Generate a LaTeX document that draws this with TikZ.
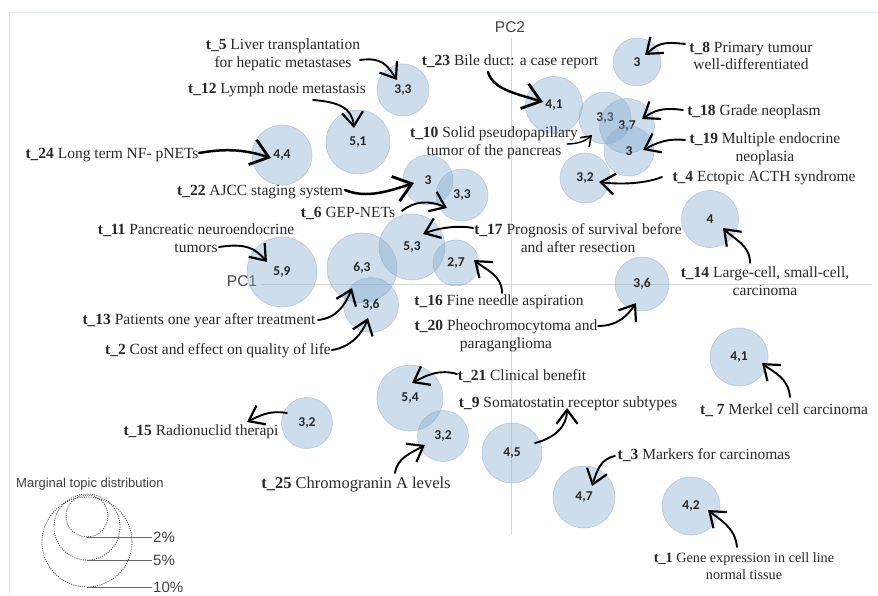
\documentclass[tikz,border=0pt]{standalone}
\usepackage{fontspec}
\setmainfont{Liberation Serif}
\newfontfamily\numfont{Carlito}
\newfontfamily\axfont{Liberation Sans}
\usetikzlibrary{arrows.meta}

\definecolor{bubblefill}{RGB}{130,170,208}
\definecolor{bubbleedge}{RGB}{150,170,192}
\definecolor{framecol}{RGB}{226,232,240}
\definecolor{axiscol}{RGB}{215,215,218}
\definecolor{labeltext}{RGB}{40,40,40}
\definecolor{axtext}{RGB}{70,70,70}

\begin{document}
\begin{tikzpicture}[x=1pt,y=-1pt,
  topic/.style={circle, inner sep=0pt, fill=bubblefill, fill opacity=0.4,
    draw=bubbleedge, draw opacity=0.55, line width=0.6pt, text opacity=1,
    text=black!85, font=\numfont\bfseries\fontsize{13.5}{13.5}\selectfont},
  lbl/.style={font=\fontsize{15.5}{17.5}\selectfont, text=labeltext,
    align=center, inner sep=0pt},
  ptr/.style={line width=1.9pt, line cap=round,
    -{Straight Barb[length=14pt,width=21pt,line width=2.2pt]}},
  bigptr/.style={line width=2.5pt, line cap=round,
    -{Straight Barb[length=17pt,width=26pt,line width=2.8pt]}},
  axislbl/.style={font=\axfont\fontsize{15.5}{15.5}\selectfont, text=axtext, inner sep=0pt},
  legtext/.style={font=\axfont\fontsize{15}{15}\selectfont, text=black!75, inner sep=0pt, anchor=west},
  legring/.style={draw=black!70, line width=0.9pt, dash pattern=on 0.9pt off 1.3pt},
  legline/.style={draw=black!60, line width=0.8pt}
]
\useasboundingbox (0,0) rectangle (878,596);

% frame edges
\draw[framecol, line width=1pt] (9,596) -- (9,13) -- (878,13);

% principal component axes
\coordinate (pc1a) at (262,284);
\coordinate (pc1b) at (872,284);
\coordinate (pc2a) at (511,38);
\coordinate (pc2b) at (511,535);
\draw[axiscol, line width=0.9pt] (pc1a) -- (pc1b);
\draw[axiscol, line width=0.9pt] (pc2a) -- (pc2b);
\node[axislbl] (pc1) at (242,281) {PC1};
\node[axislbl] (pc2) at (510,27) {PC2};

% topic bubbles
\node[topic, minimum size=52pt] (c5)  at (403,90)  {3,3};
\node[topic, minimum size=64pt] (c12) at (358,142) {5,1};
\node[topic, minimum size=60pt] (c24) at (282,155) {4,4};
\node[topic, minimum size=50pt] (c22) at (428,180) {3};
\node[topic, minimum size=52pt] (c6)  at (462,195) {3,3};
\node[topic, minimum size=66pt] (c17) at (412,247) {5,3};
\node[topic, minimum size=46pt] (c16) at (456,263) {2,7};
\node[topic, minimum size=70pt] (c13) at (362,268) {6,3};
\node[topic, minimum size=55pt] (c2)  at (371,305) {3,6};
\node[topic, minimum size=70pt] (c11) at (282,272) {5,9};
\node[topic, minimum size=48pt] (c8)  at (637,62)  {3};
\node[topic, minimum size=57pt] (c23) at (554,105) {4,1};
\node[topic, minimum size=52pt] (c10) at (605,118) {3,3};
\node[topic, minimum size=55pt] (c18) at (627,126) {3,7};
\node[topic, minimum size=50pt] (c19) at (629,151) {3};
\node[topic, minimum size=50pt] (c4)  at (585,178) {3,2};
\node[topic, minimum size=57pt] (c14) at (710,219) {4};
\node[topic, minimum size=54pt] (c20) at (642,284) {3,6};
\node[topic, minimum size=58pt] (c7)  at (739,357) {4,1};
\node[topic, minimum size=66pt] (c21) at (410,398) {5,4};
\node[topic, minimum size=51pt] (c15) at (307,423) {3,2};
\node[topic, minimum size=51pt] (c25) at (443,436) {3,2};
\node[topic, minimum size=60pt] (c9)  at (512,453) {4,5};
\node[topic, minimum size=62pt] (c3)  at (584,497) {4,7};
\node[topic, minimum size=58pt] (c1)  at (691,506) {4,2};

% topic labels
\node[lbl] (l5)  at (283,55)  {\textbf{t\_5} Liver transplantation\\for hepatic metastases};
\node[lbl] (l12) at (277,90)  {\textbf{t\_12} Lymph node metastasis};
\node[lbl] (l24) at (112,155) {\textbf{t\_24} Long term NF- pNETs};
\node[lbl] (l22) at (260,192) {\textbf{t\_22} AJCC staging system};
\node[lbl] (l6)  at (348,213) {\textbf{t\_6} GEP-NETs};
\node[lbl] (l11) at (196,238) {\textbf{t\_11} Pancreatic neuroendocrine\\tumors};
\node[lbl] (l13) at (199,321) {\textbf{t\_13} Patients one year after treatment};
\node[lbl] (l2)  at (218,351) {\textbf{t\_2} Cost and effect on quality of life};
\node[lbl] (l23) at (510,62)  {\textbf{t\_23} Bile duct: a case report};
\node[lbl] (l8)  at (751,56)  {\textbf{t\_8} Primary tumour\\well-differentiated};
\node[lbl] (l18) at (754,112) {\textbf{t\_18} Grade neoplasm};
\node[lbl] (l19) at (765,149) {\textbf{t\_19} Multiple endocrine\\neoplasia};
\node[lbl] (l10) at (494,143) {\textbf{t\_10} Solid pseudopapillary\\tumor of the pancreas};
\node[lbl] (l4)  at (764,178) {\textbf{t\_4} Ectopic ACTH syndrome};
\node[lbl] (l17) at (578,238) {\textbf{t\_17} Prognosis of survival before\\and after resection};
\node[lbl] (l14) at (765,281) {\textbf{t\_14} Large-cell, small-cell,\\carcinoma};
\node[lbl] (l16) at (499,302) {\textbf{t\_16} Fine needle aspiration};
\node[lbl] (l20) at (506,336) {\textbf{t\_20} Pheochromocytoma and\\paraganglioma};
\node[lbl] (l21) at (522,376) {\textbf{t\_21} Clinical benefit};
\node[lbl] (l9)  at (568,404) {\textbf{t\_9} Somatostatin receptor subtypes};
\node[lbl] (l7)  at (784,410) {\textbf{t\_ 7} Merkel cell carcinoma};
\node[lbl] (l3)  at (704,455) {\textbf{t\_3} Markers for carcinomas};
\node[lbl, font=\fontsize{14.2}{17.5}\selectfont] (l1) at (744,566) {\textbf{t\_1} Gene expression in cell line\\normal tissue};
\node[lbl] (l15) at (201,432) {\textbf{t\_15} Radionuclid therapi};
\node[lbl, font=\fontsize{16.5}{18}\selectfont] (l25) at (356,485) {\textbf{t\_25} Chromogranin A levels};

% pointer ends
\coordinate (a5)  at (360,60);  \coordinate (b5)  at (397,80);
\coordinate (a12) at (313,100); \coordinate (b12) at (354,128);
\coordinate (a24) at (199,153); \coordinate (b24) at (271,158);
\coordinate (a22) at (345,190); \coordinate (b22) at (414,183);
\coordinate (a6)  at (402,211); \coordinate (b6)  at (447,208);
\coordinate (a11) at (219,247); \coordinate (b11) at (267,262);
\coordinate (a13) at (318,320); \coordinate (b13) at (352,288);
\coordinate (a2)  at (332,350); \coordinate (b2)  at (368,318);
\coordinate (a23) at (488,72);  \coordinate (b23) at (543,102);
\coordinate (a8)  at (685,44);  \coordinate (b8)  at (645,55);
\coordinate (a18) at (683,110); \coordinate (b18) at (642,119);
\coordinate (a19) at (685,140); \coordinate (b19) at (643,150);
\coordinate (a10) at (567,144); \coordinate (b10) at (592,135);
\coordinate (a4)  at (662,177); \coordinate (b4)  at (599,182);
\coordinate (a17) at (473,228); \coordinate (b17) at (423,234);
\coordinate (a14) at (750,263); \coordinate (b14) at (723,228);
\coordinate (a16) at (502,293); \coordinate (b16) at (474,260);
\coordinate (a20) at (598,326); \coordinate (b20) at (636,303);
\coordinate (a21) at (457,374); \coordinate (b21) at (412,383);
\coordinate (a9)  at (535,443); \coordinate (b9)  at (567,408);
\coordinate (a7)  at (790,397); \coordinate (b7)  at (762,363);
\coordinate (a3)  at (615,456); \coordinate (b3)  at (592,486);
\coordinate (a1)  at (737,547); \coordinate (b1)  at (708,510);
\coordinate (a15) at (287,413); \coordinate (b15) at (247,422);
\coordinate (a25) at (395,473); \coordinate (b25) at (425,445);

% curved pointers
\draw[ptr] (a5)  .. controls +(22,-3) and +(-10,-15) .. (b5);
\draw[ptr] (a12) .. controls +(26,2)  and +(-2,-20)  .. (b12);
\draw[bigptr] (a24) .. controls +(28,-5) and +(-25,-8) .. (b24);
\draw[bigptr] (a22) .. controls +(22,9)  and +(-25,8)  .. (b22);
\draw[ptr] (a6)  .. controls +(12,-10) and +(-18,-8) .. (b6);
\draw[ptr] (a11) .. controls +(26,-4) and +(-12,-14) .. (b11);
\draw[ptr] (a13) .. controls +(20,-2) and +(-6,15)  .. (b13);
\draw[ptr] (a2)  .. controls +(20,-3) and +(-5,14)  .. (b2);
\draw[bigptr] (a23) .. controls +(5,18) and +(-25,-8) .. (b23);
\draw[ptr] (a8)  .. controls +(-25,-3) and +(12,-10) .. (b8);
\draw[ptr] (a18) .. controls +(-22,-3) and +(12,-8) .. (b18);
\draw[ptr] (a19) .. controls +(-20,-2) and +(12,-6) .. (b19);
\draw[ptr, line width=1.4pt, -{Straight Barb[length=9pt,width=13pt,line width=1.6pt]}] (a10) .. controls +(12,0) and +(-5,5) .. (b10);
\draw[ptr] (a4)  .. controls +(-20,8) and +(15,2)   .. (b4);
\draw[ptr] (a17) .. controls +(-15,-3) and +(15,-6) .. (b17);
\draw[ptr] (a14) .. controls +(0,-18) and +(12,12)  .. (b14);
\draw[ptr] (a16) .. controls +(0,-18) and +(12,10)  .. (b16);
\draw[ptr] (a20) .. controls +(20,0) and +(-8,12)   .. (b20);
\draw[ptr] (a21) .. controls +(-18,-5) and +(15,-8) .. (b21);
\draw[ptr] (a9)  .. controls +(20,-5) and +(0,18)   .. (b9);
\draw[ptr] (a7)  .. controls +(-2,-20) and +(12,10) .. (b7);
\draw[ptr] (a3)  .. controls +(-15,3) and +(5,-15)  .. (b3);
\draw[ptr] (a1)  .. controls +(-2,-20) and +(12,10) .. (b1);
\draw[ptr] (a15) .. controls +(-18,-3) and +(12,-6) .. (b15);
\draw[ptr] (a25) .. controls +(2,-15) and +(-14,8)  .. (b25);

% legend: marginal topic distribution
\node[font=\axfont\fontsize{13}{13}\selectfont, text=black!75, inner sep=0pt, anchor=west] (legtitle) at (16,484) {Marginal topic distribution};
\draw[legring] (87,516) circle[radius=21];
\draw[legring] (87,527) circle[radius=33];
\draw[legring] (87,542) circle[radius=45];
\coordinate (r2a) at (87,537);  \coordinate (r2b) at (152,537);
\coordinate (r5a) at (87,560);  \coordinate (r5b) at (152,560);
\coordinate (r10a) at (87,587); \coordinate (r10b) at (152,587);
\draw[legline] (r2a) -- (r2b);
\draw[legline] (r5a) -- (r5b);
\draw[legline] (r10a) -- (r10b);
\node[legtext] (p2)  at (153,537) {2\%};
\node[legtext] (p5)  at (153,560) {5\%};
\node[legtext] (p10) at (153,587) {10\%};
\end{tikzpicture}
\end{document}
